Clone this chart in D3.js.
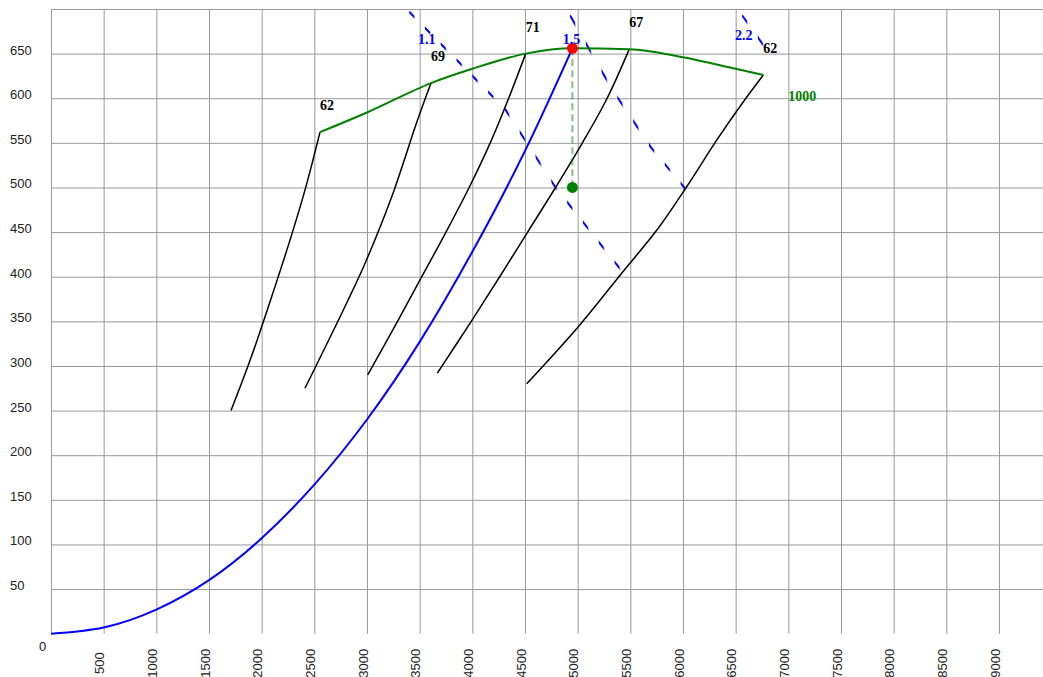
<!DOCTYPE html>
<html>
<head>
<meta charset="utf-8">
<script src="https://cdn.jsdelivr.net/npm/d3@7"></script>
<style>
  html, body { margin: 0; padding: 0; background: #fff; overflow: hidden; }
  svg { display: block; }
</style>
</head>
<body>
<script>
// ---- tick values ----
const xGridValues = [0, 500, 1000, 1500, 2000, 2500, 3000, 3500, 4000, 4500,
                     5000, 5500, 6000, 6500, 7000, 7500, 8000, 8500, 9000];
const yGridValues = [50, 100, 150, 200, 250, 300, 350, 400, 450, 500, 550, 600, 650, 700];
const originLabel = "0";

// ---- system curve (rises through the duty point) ----
const systemCurve = [[0, 0], [500, 7], [1000, 27], [1500, 60], [2000, 107], [2500, 167],
                     [3000, 240], [3500, 327], [4000, 428], [4500, 541], [4950, 656]];

// ---- speed curves, labelled by efficiency ----
const speedLabels = ["62", "69", "71", "67", "62"];
const speedCurve1 = [[1709, 250], [1889, 306], [2079, 372], [2269, 441], [2411, 497], [2554, 562]];
const speedCurve2 = [[2411, 275], [2813, 372], [2985, 416], [3233, 489], [3478, 575], [3608, 617]];
const speedCurve3 = [[3007, 290], [3290, 350], [3520, 400], [3750, 450], [3970, 500], [4170, 550], [4345, 600], [4507, 650]];
const speedCurve4 = [[3668, 292], [3990, 350], [4260, 400], [4525, 450], [4790, 500], [5045, 550], [5280, 600], [5490, 655]];
const speedCurve5 = [[4516, 280], [5006, 344], [5418, 404], [5750, 452], [6030, 500], [6320, 553], [6573, 596], [6763, 626]];
const speedCurves = [speedCurve1, speedCurve2, speedCurve3, speedCurve4, speedCurve5];

// ---- envelope at full speed ----
const envelope = [[2554, 562], [3000, 584], [3608, 617], [4000, 633], [4507, 650], [4950, 656],
                  [5490, 655], [6000, 646], [6500, 633], [6763, 626]];
const envelopeLabel = "1000";

// ---- power lines ----
const powerLabels = ["1.1", "1.5", "2.2"];
const powerLine1 = [[3400, 697], [4310, 588], [4790, 500], [5415, 407]];
const powerLine2 = [[4927, 693], [5326, 610], [5696, 545], [6019, 499]];
const powerLine3 = [[6560, 693], [6790, 655]];
const powerLines = [powerLine1, powerLine2, powerLine3];
const powerLabelAt = [[3484, 661], [4858, 661], [6494, 665]];

// ---- duty point and its projection ----
const dutyPoint = [4950, 656];
const dutyBase = [4950, 500];

// ================= drawing =================
const W = 1043, H = 677;
const x = d3.scaleLinear().domain([0, 9000]).range([51, 999]);
const y = d3.scaleLinear().domain([0, 700]).range([633.7, 9]);

const svg = d3.select("body").append("svg").attr("width", W).attr("height", H);
const defs = svg.append("defs");

const sansFont = "'Liberation Sans', Arial, sans-serif";
const serifFont = "'Liberation Serif', 'Times New Roman', serif";

// vertical grid + rotated x labels
const xAxis = d3.axisBottom(x)
  .tickValues(xGridValues)
  .tickSize(-(y(0) - y(700)))
  .tickFormat(d => d === 0 ? "" : String(d));
const gx = svg.append("g").attr("transform", `translate(0,${y(0)})`).call(xAxis);
gx.select(".domain").remove();
gx.selectAll(".tick line").attr("stroke", "#999").attr("stroke-width", 1);
gx.selectAll(".tick text")
  .attr("x", 0).attr("y", 0).attr("dy", null)
  .attr("text-anchor", "middle")
  .attr("transform", "translate(0,29.5) rotate(-90)")
  .attr("fill", "#222")
  .style("font-family", sansFont).style("font-size", "13px");

// horizontal grid + y labels
const yAxis = d3.axisLeft(y)
  .tickValues(yGridValues)
  .tickSize(-(W - x(0)))
  .tickFormat(d => d === 700 ? "" : String(d));
const gy = svg.append("g").attr("transform", `translate(${x(0)},0)`).call(yAxis);
gy.select(".domain").remove();
gy.selectAll(".tick line").attr("stroke", "#999").attr("stroke-width", 1);
gy.selectAll(".tick text")
  .attr("x", 10 - x(0)).attr("dy", "0.5")
  .attr("text-anchor", "start")
  .attr("fill", "#222")
  .style("font-family", sansFont).style("font-size", "13px");

svg.append("text")
  .attr("x", x(0) - 12).attr("y", y(0) + 17)
  .attr("fill", "#222")
  .style("font-family", sansFont).style("font-size", "13px")
  .text(originLabel);

const line = d3.line().x(d => x(d[0])).y(d => y(d[1]));
const smooth = d3.line().x(d => x(d[0])).y(d => y(d[1])).curve(d3.curveMonotoneX);
const spline = d3.line().x(d => x(d[0])).y(d => y(d[1])).curve(d3.curveCatmullRom.alpha(0.5));
const natural = d3.line().x(d => x(d[0])).y(d => y(d[1])).curve(d3.curveNatural);

// power lines: dashes repeat at a fixed step along the x axis
const dashStep = x(150) - x(0);
const dashLen = x(50) - x(0);
powerLines.forEach((pts, i) => {
  const pat = defs.append("pattern")
    .attr("id", "dashPat" + i)
    .attr("patternUnits", "userSpaceOnUse")
    .attr("x", x(pts[0][0])).attr("y", 0)
    .attr("width", dashStep).attr("height", H);
  pat.append("rect").attr("width", dashLen).attr("height", H).attr("fill", "#fff");
  const mask = defs.append("mask")
    .attr("id", "dashMask" + i)
    .attr("maskUnits", "userSpaceOnUse")
    .attr("x", 0).attr("y", 0).attr("width", W).attr("height", H);
  mask.append("rect").attr("width", W).attr("height", H).attr("fill", `url(#dashPat${i})`);

  svg.append("path")
    .datum(pts)
    .attr("d", line)
    .attr("fill", "none")
    .attr("stroke", "blue")
    .attr("stroke-width", 2)
    .attr("mask", `url(#dashMask${i})`);
});

// speed curves
svg.append("g").selectAll("path")
  .data(speedCurves)
  .join("path")
  .attr("d", spline)
  .attr("fill", "none")
  .attr("stroke", "#000")
  .attr("stroke-width", 1.5);

// envelope
svg.append("path")
  .datum(envelope)
  .attr("d", smooth)
  .attr("fill", "none")
  .attr("stroke", "green")
  .attr("stroke-width", 2);

// system curve
svg.append("path")
  .datum(systemCurve)
  .attr("d", natural)
  .attr("fill", "none")
  .attr("stroke", "blue")
  .attr("stroke-width", 2);

// projection of the duty point
svg.append("line")
  .attr("x1", x(dutyPoint[0])).attr("y1", y(dutyPoint[1]))
  .attr("x2", x(dutyBase[0])).attr("y2", y(dutyBase[1]))
  .attr("stroke", "rgba(0,128,0,0.5)")
  .attr("stroke-width", 2)
  .attr("stroke-dasharray", "7,4");

svg.append("circle")
  .attr("cx", x(dutyBase[0])).attr("cy", y(dutyBase[1]))
  .attr("r", 5.5).attr("fill", "green");
svg.append("circle")
  .attr("cx", x(dutyPoint[0])).attr("cy", y(dutyPoint[1]))
  .attr("r", 5.5).attr("fill", "red");

// labels
const labelStyle = sel => sel
  .style("font-family", serifFont)
  .style("font-weight", "bold")
  .style("font-size", "14px");

svg.append("g").selectAll("text")
  .data(speedCurves)
  .join("text")
  .attr("x", d => x(d[d.length - 1][0]))
  .attr("y", d => y(d[d.length - 1][1]) - 22)
  .attr("fill", "#000")
  .text((d, i) => speedLabels[i])
  .call(labelStyle);

svg.append("g").selectAll("text")
  .data(powerLabelAt)
  .join("text")
  .attr("x", d => x(d[0]))
  .attr("y", d => y(d[1]))
  .attr("fill", "blue")
  .text((d, i) => powerLabels[i])
  .call(labelStyle);

svg.append("text")
  .attr("x", x(envelope[envelope.length - 1][0]) + 25)
  .attr("y", y(envelope[envelope.length - 1][1]) + 26)
  .attr("fill", "green")
  .text(envelopeLabel)
  .call(labelStyle);
</script>
</body>
</html>
